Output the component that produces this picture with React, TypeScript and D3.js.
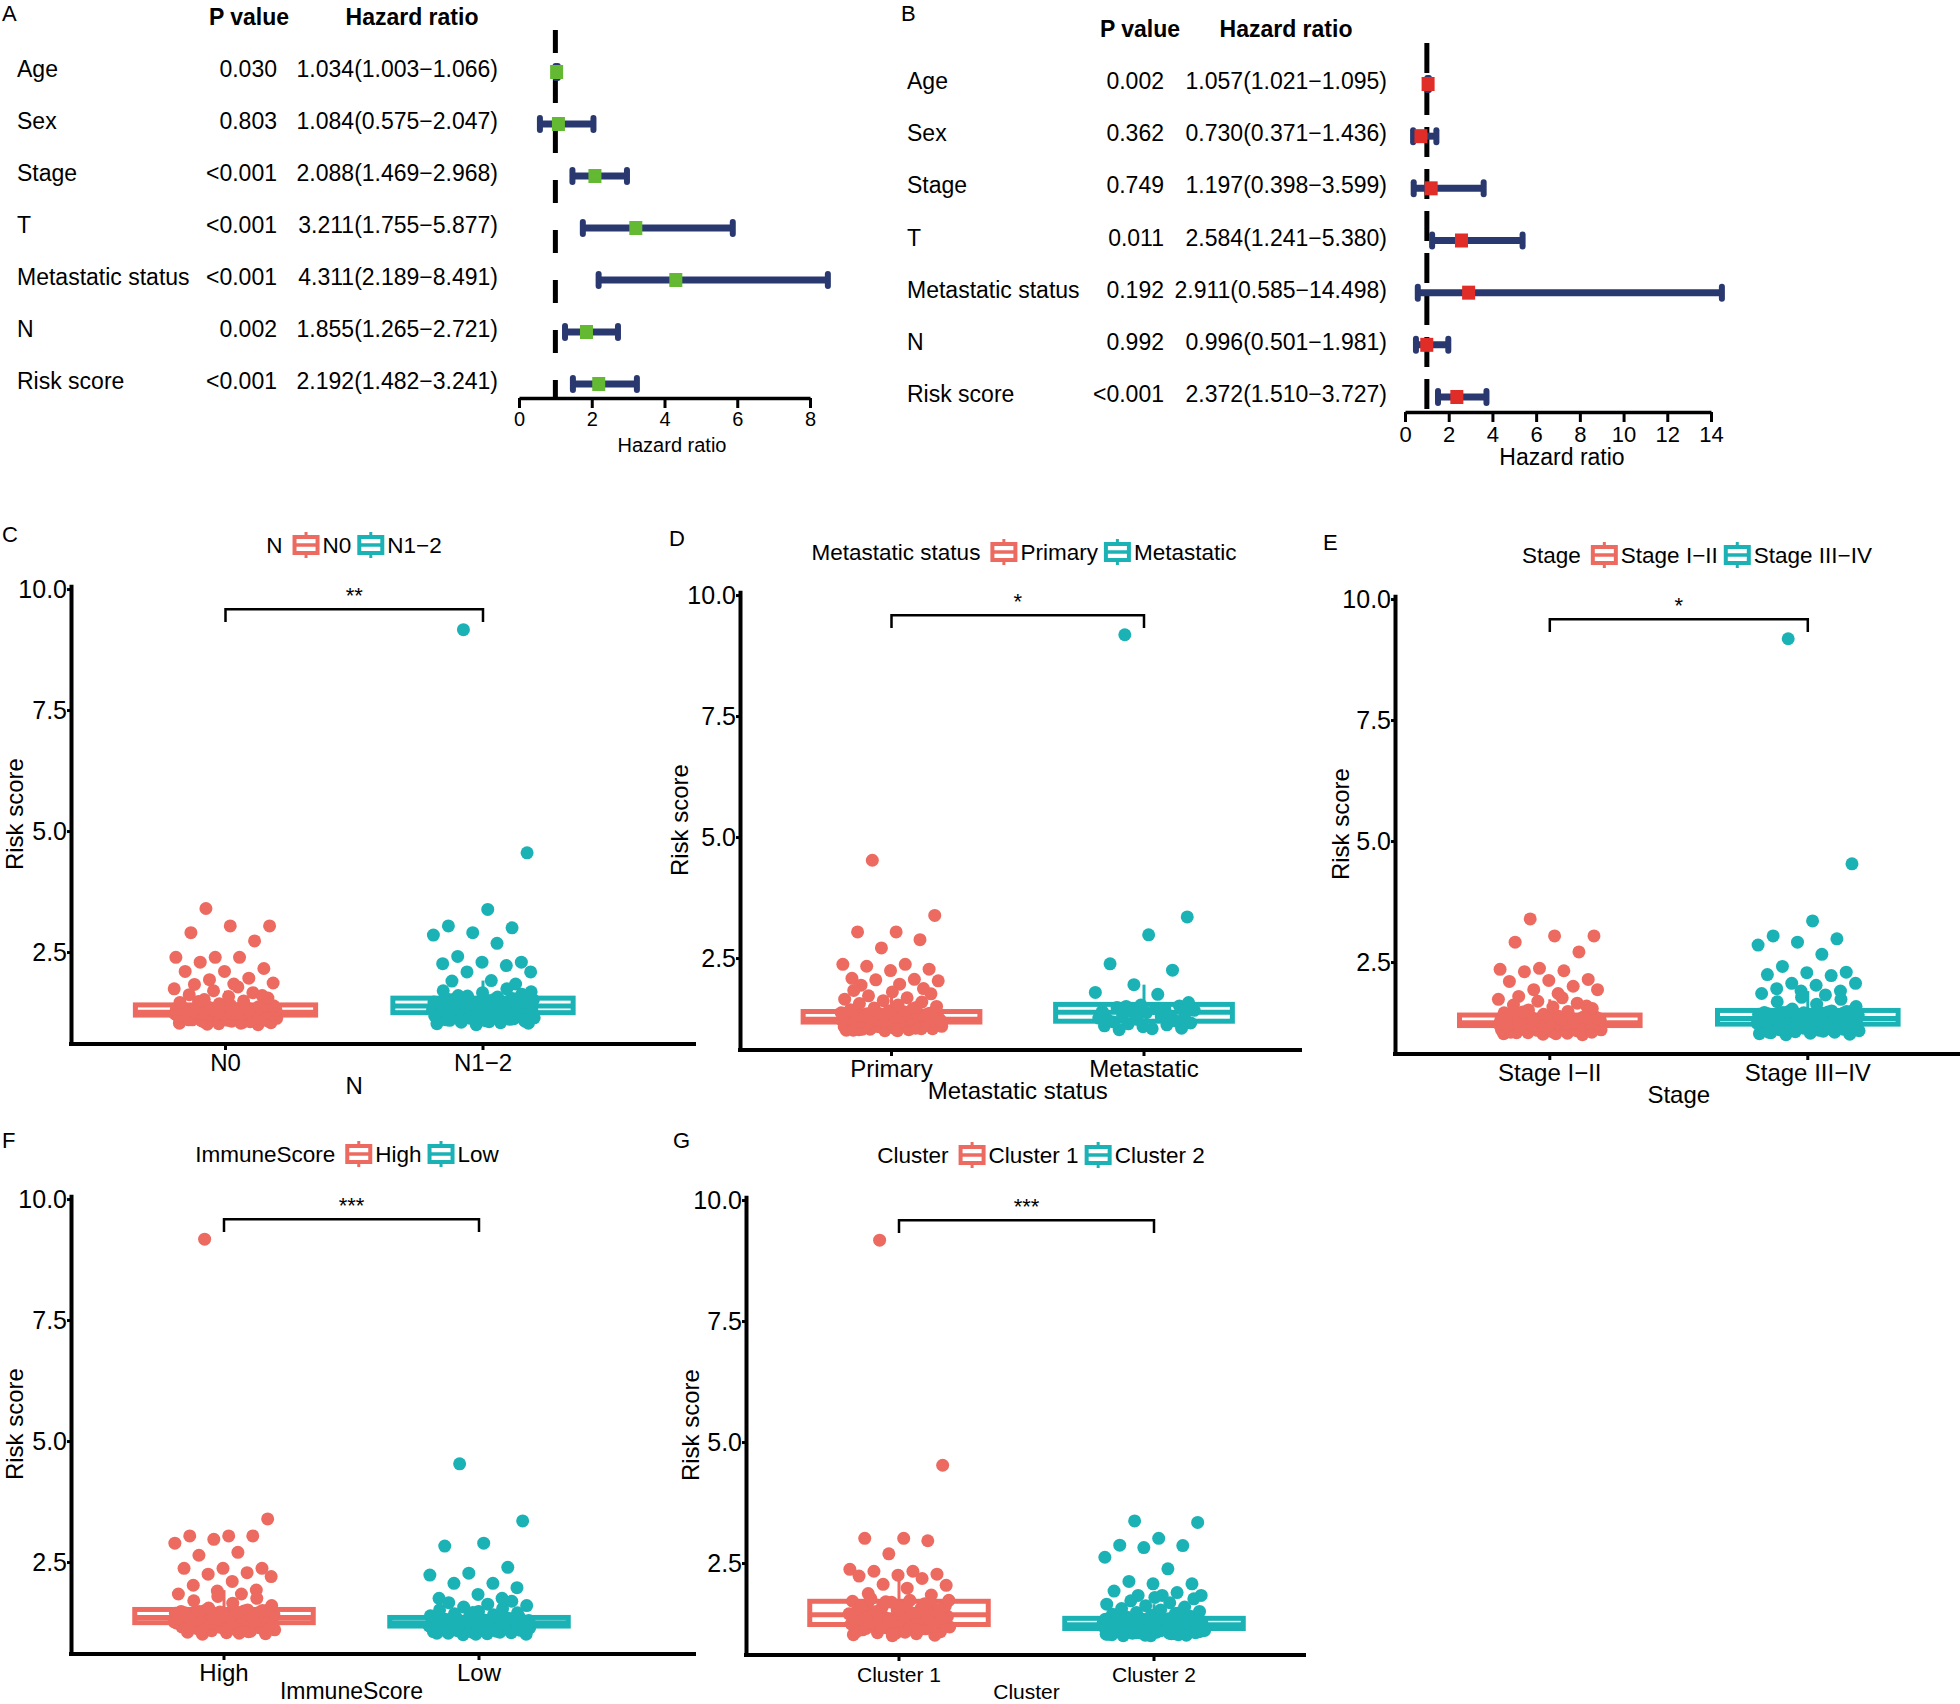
import React, { useEffect, useRef } from 'react';
import * as d3 from 'd3';

const FONT = '"Liberation Sans", Arial, Helvetica, sans-serif';
const RED = '#EC6A60';
const TEAL = '#1BB2B6';
const NAVY = '#2A3870';

// ---- forest plots: A univariate, B multivariate ----
const forestVars = ['Age', 'Sex', 'Stage', 'T', 'Metastatic status', 'N', 'Risk score'];

const uniP = ['0.030', '0.803', '<0.001', '<0.001', '<0.001', '0.002', '<0.001'];
const uniHR = [1.034, 1.084, 2.088, 3.211, 4.311, 1.855, 2.192];
const uniLow = [1.003, 0.575, 1.469, 1.755, 2.189, 1.265, 1.482];
const uniHigh = [1.066, 2.047, 2.968, 5.877, 8.491, 2.721, 3.241];
const uniTicks = [0, 2, 4, 6, 8];

const multiP = ['0.002', '0.362', '0.749', '0.011', '0.192', '0.992', '<0.001'];
const multiHR = [1.057, 0.730, 1.197, 2.584, 2.911, 0.996, 2.372];
const multiLow = [1.021, 0.371, 0.398, 1.241, 0.585, 0.501, 1.510];
const multiHigh = [1.095, 1.436, 3.599, 5.380, 14.498, 1.981, 3.727];
const multiTicks = [0, 2, 4, 6, 8, 10, 12, 14];

// ---- risk score by group (C-G), estimated from the jitter plots ----
const nGroups = ['N0', 'N1\u22122'];
const riskN0 = [3.40, 3.04, 3.04, 2.90, 2.73, 2.39, 2.39, 2.39, 2.29, 2.16, 2.10, 2.10, 1.96, 1.93, 1.86, 1.84, 1.83,
  1.00, 1.02, 1.03, 1.05, 1.06, 1.08, 1.09, 1.10, 1.11, 1.12, 1.13, 1.14, 1.15, 1.16, 1.17, 1.18, 1.19, 1.01, 1.04, 1.07, 1.10, 1.13, 1.16, 1.19, 1.03, 1.08, 1.12, 1.15, 1.18, 1.06,
  1.20, 1.21, 1.22, 1.23, 1.24, 1.25, 1.20, 1.21, 1.22, 1.23, 1.24, 1.25, 1.20, 1.21, 1.22, 1.23, 1.24, 1.25, 1.21, 1.22, 1.23, 1.24, 1.21, 1.23, 1.25, 1.22, 1.24, 1.20, 1.23, 1.22,
  1.26, 1.27, 1.28, 1.29, 1.30, 1.31, 1.32, 1.33, 1.34, 1.35, 1.36, 1.37, 1.38, 1.39, 1.40, 1.26, 1.28, 1.30, 1.32, 1.34, 1.36, 1.38, 1.40, 1.27, 1.31, 1.35, 1.39, 1.29, 1.33, 1.37,
  1.43, 1.46, 1.49, 1.52, 1.55, 1.58, 1.62, 1.66, 1.70, 1.74, 1.78, 1.48, 1.60];
const riskN12 = [9.16, 4.55, 3.38, 3.04, 3.00, 2.90, 2.85, 2.68, 2.41, 2.29, 2.29, 2.26, 2.22, 2.09, 2.09, 1.91, 1.90, 1.84,
  1.00, 1.02, 1.04, 1.05, 1.07, 1.08, 1.10, 1.11, 1.13, 1.14, 1.16, 1.17, 1.19, 1.20, 1.22, 1.23, 1.24, 1.03, 1.06, 1.09, 1.12, 1.15, 1.18, 1.21, 1.24, 1.13,
  1.25, 1.26, 1.27, 1.28, 1.29, 1.30, 1.31, 1.32, 1.33, 1.34, 1.35, 1.36, 1.37, 1.38, 1.25, 1.27, 1.29, 1.31, 1.33, 1.35, 1.37, 1.26, 1.30, 1.34, 1.38, 1.32,
  1.39, 1.40, 1.41, 1.42, 1.43, 1.44, 1.45, 1.46, 1.47, 1.48, 1.49, 1.50, 1.51, 1.52, 1.53, 1.54, 1.40, 1.42, 1.44, 1.46, 1.48, 1.50, 1.52, 1.54, 1.43, 1.47,
  1.57, 1.60, 1.63, 1.66, 1.70, 1.74, 1.59, 1.68];

const metGroups = ['Primary', 'Metastatic'];
const riskPrimary = [4.52, 3.38, 3.04, 3.04, 2.88, 2.71, 2.37, 2.37, 2.33, 2.27, 2.24, 2.08, 2.06, 2.05, 2.03, 1.96, 1.94, 1.87,
  1.00, 1.01, 1.02, 1.03, 1.04, 1.05, 1.06, 1.07, 1.08, 1.09, 1.10, 1.11, 1.12, 1.13, 1.14, 1.15, 1.16, 1.17, 1.00, 1.02, 1.04, 1.06, 1.08, 1.10, 1.12, 1.14, 1.16, 1.01, 1.05, 1.09, 1.13, 1.17, 1.03, 1.11,
  1.18, 1.19, 1.20, 1.21, 1.22, 1.23, 1.18, 1.19, 1.20, 1.21, 1.22, 1.23, 1.18, 1.19, 1.20, 1.21, 1.22, 1.23, 1.18, 1.19, 1.20, 1.21, 1.22, 1.23, 1.18, 1.20, 1.22, 1.19, 1.21, 1.23, 1.20, 1.22, 1.19, 1.21,
  1.24, 1.25, 1.26, 1.27, 1.28, 1.29, 1.30, 1.31, 1.32, 1.33, 1.34, 1.35, 1.36, 1.37, 1.38, 1.39, 1.24, 1.26, 1.28, 1.30, 1.32, 1.34, 1.36, 1.38, 1.25, 1.27, 1.29, 1.31, 1.33, 1.35, 1.37, 1.39, 1.30, 1.34,
  1.41, 1.43, 1.45, 1.47, 1.50, 1.53, 1.56, 1.59, 1.62, 1.65, 1.68, 1.72, 1.76, 1.80, 1.83, 1.48];
const riskMetastatic = [9.18, 3.35, 2.98, 2.38, 2.25, 1.95, 1.79, 1.75,
  1.02, 1.05, 1.08, 1.10, 1.12, 1.14, 1.16, 1.04, 1.18,
  1.20, 1.23, 1.26, 1.29, 1.32, 1.35, 1.37, 1.22, 1.30,
  1.39, 1.42, 1.45, 1.48, 1.51, 1.53, 1.40, 1.46, 1.50,
  1.58];

const stageGroups = ['Stage I\u2212II', 'Stage III\u2212IV'];
const riskStageEarly = [3.39, 3.04, 3.04, 2.91, 2.71, 2.37, 2.35, 2.32, 2.30, 2.14, 2.12, 2.10, 2.00, 1.93, 1.93, 1.85, 1.79,
  1.00, 1.01, 1.02, 1.03, 1.04, 1.05, 1.06, 1.07, 1.08, 1.09, 1.10, 1.11, 1.12, 1.13, 1.14, 1.15, 1.16, 1.17, 1.18, 1.02, 1.04, 1.06, 1.08, 1.10, 1.12, 1.14, 1.16, 1.18, 1.05, 1.11,
  1.19, 1.20, 1.21, 1.22, 1.23, 1.24, 1.19, 1.20, 1.21, 1.22, 1.23, 1.24, 1.19, 1.20, 1.21, 1.22, 1.23, 1.24, 1.19, 1.21, 1.23, 1.20, 1.22, 1.24, 1.19, 1.22, 1.20, 1.23, 1.21, 1.24,
  1.25, 1.26, 1.27, 1.28, 1.29, 1.30, 1.31, 1.32, 1.33, 1.34, 1.35, 1.36, 1.37, 1.38, 1.39, 1.40, 1.25, 1.27, 1.29, 1.31, 1.33, 1.35, 1.37, 1.39, 1.26, 1.30, 1.34, 1.38, 1.28, 1.36,
  1.42, 1.45, 1.48, 1.51, 1.54, 1.57, 1.61, 1.65, 1.69, 1.73, 1.76, 1.47, 1.59];
const riskStageLate = [9.18, 4.53, 3.35, 3.04, 2.98, 2.91, 2.85, 2.66, 2.41, 2.29, 2.28, 2.24, 2.22, 2.06, 2.06, 2.02, 1.95, 1.90, 1.90, 1.85, 1.82,
  1.00, 1.01, 1.03, 1.04, 1.05, 1.06, 1.08, 1.09, 1.10, 1.11, 1.13, 1.14, 1.15, 1.16, 1.17, 1.18, 1.19, 1.20, 1.21, 1.02, 1.07, 1.12, 1.17, 1.21, 1.05, 1.10, 1.15,
  1.22, 1.23, 1.24, 1.25, 1.26, 1.27, 1.28, 1.29, 1.30, 1.31, 1.32, 1.33, 1.22, 1.23, 1.24, 1.25, 1.26, 1.27, 1.28, 1.29, 1.30, 1.31, 1.32, 1.33, 1.24, 1.28, 1.31,
  1.34, 1.35, 1.36, 1.37, 1.38, 1.39, 1.40, 1.41, 1.42, 1.43, 1.44, 1.45, 1.46, 1.47, 1.48, 1.49, 1.34, 1.36, 1.38, 1.40, 1.42, 1.44, 1.46, 1.48, 1.37, 1.43, 1.49,
  1.53, 1.58, 1.63, 1.68, 1.73, 1.77];

const immuneGroups = ['High', 'Low'];
const riskImmuneHigh = [9.17, 3.39, 3.04, 3.04, 3.04, 2.97, 2.89, 2.70, 2.64, 2.37, 2.37, 2.37, 2.28, 2.25, 2.20, 2.10, 2.02, 1.92, 1.90, 1.84, 1.84,
  1.01, 1.02, 1.04, 1.05, 1.07, 1.08, 1.10, 1.11, 1.13, 1.14, 1.15, 1.16, 1.17, 1.18, 1.19, 1.20, 1.21, 1.22, 1.23, 1.24, 1.03, 1.09, 1.12, 1.18, 1.22, 1.06, 1.24,
  1.25, 1.26, 1.27, 1.28, 1.29, 1.30, 1.31, 1.32, 1.33, 1.34, 1.35, 1.25, 1.26, 1.27, 1.28, 1.29, 1.30, 1.31, 1.32, 1.33, 1.34, 1.35, 1.26, 1.28, 1.30, 1.32, 1.34,
  1.36, 1.37, 1.38, 1.39, 1.40, 1.41, 1.42, 1.43, 1.44, 1.45, 1.46, 1.47, 1.48, 1.49, 1.50, 1.51, 1.36, 1.38, 1.40, 1.42, 1.44, 1.46, 1.48, 1.50, 1.39, 1.45, 1.51,
  1.55, 1.60, 1.65, 1.70, 1.75, 1.79];
const riskImmuneLow = [4.53, 3.35, 2.89, 2.83, 2.39, 2.27, 2.23, 2.06, 2.06, 1.97, 1.83, 1.75, 1.75,
  1.00, 1.01, 1.02, 1.03, 1.04, 1.05, 1.06, 1.07, 1.08, 1.09, 1.10, 1.11, 1.12, 1.13, 1.14, 1.15, 1.16, 1.17, 1.01, 1.03, 1.05, 1.07, 1.09, 1.11, 1.13, 1.15, 1.17,
  1.18, 1.19, 1.20, 1.21, 1.22, 1.23, 1.24, 1.18, 1.19, 1.20, 1.21, 1.22, 1.23, 1.24, 1.18, 1.19, 1.20, 1.21, 1.22, 1.23, 1.24, 1.18, 1.20, 1.22, 1.24, 1.19, 1.21,
  1.25, 1.26, 1.27, 1.28, 1.29, 1.30, 1.31, 1.32, 1.33, 1.34, 1.35, 1.25, 1.26, 1.27, 1.28, 1.29, 1.30, 1.31, 1.32, 1.33, 1.34, 1.35, 1.26, 1.28, 1.30, 1.32, 1.34,
  1.37, 1.39, 1.41, 1.43, 1.45, 1.48, 1.51, 1.54, 1.57, 1.60, 1.63, 1.66, 1.69, 1.46];

const clusterGroups = ['Cluster 1', 'Cluster 2'];
const riskCluster1 = [9.17, 4.52, 3.01, 3.01, 2.96, 2.69, 2.37, 2.33, 2.33, 2.27, 2.25, 2.23, 2.18, 2.06, 2.04, 1.98, 1.87, 1.84,
  1.00, 1.02, 1.04, 1.06, 1.08, 1.10, 1.12, 1.14, 1.16, 1.18, 1.20, 1.22, 1.01, 1.05, 1.09, 1.13, 1.17, 1.21, 1.07, 1.15, 1.19, 1.23,
  1.24, 1.26, 1.28, 1.30, 1.32, 1.34, 1.36, 1.38, 1.40, 1.42, 1.25, 1.27, 1.29, 1.31, 1.33, 1.35, 1.37, 1.39, 1.41, 1.43, 1.30,
  1.45, 1.47, 1.49, 1.51, 1.53, 1.55, 1.57, 1.59, 1.61, 1.63, 1.65, 1.67, 1.69, 1.71, 1.46, 1.50, 1.54, 1.58, 1.62, 1.66, 1.70,
  1.73, 1.73, 1.76];
const riskCluster2 = [3.37, 3.34, 3.01, 2.87, 2.86, 2.82, 2.62, 2.38, 2.12, 2.07, 2.07, 1.92, 1.89, 1.83, 1.83, 1.83,
  1.00, 1.01, 1.02, 1.03, 1.04, 1.05, 1.06, 1.07, 1.08, 1.09, 1.10, 1.11, 1.12, 1.13, 1.14, 1.00, 1.02, 1.04, 1.06, 1.08, 1.10, 1.12, 1.14, 1.01, 1.03, 1.05, 1.07, 1.09, 1.11, 1.13, 1.02, 1.06, 1.10, 1.14,
  1.15, 1.16, 1.17, 1.18, 1.19, 1.20, 1.21, 1.22, 1.15, 1.16, 1.17, 1.18, 1.19, 1.20, 1.21, 1.22, 1.15, 1.16, 1.17, 1.18, 1.19, 1.20, 1.21, 1.22, 1.15, 1.17, 1.19, 1.21, 1.16, 1.18, 1.20, 1.22, 1.17, 1.19,
  1.23, 1.24, 1.25, 1.26, 1.27, 1.28, 1.29, 1.30, 1.31, 1.32, 1.33, 1.34, 1.35, 1.23, 1.24, 1.25, 1.26, 1.27, 1.28, 1.29, 1.30, 1.31, 1.32, 1.33, 1.34, 1.35, 1.24, 1.26, 1.28, 1.30, 1.32, 1.34, 1.27, 1.31,
  1.38, 1.40, 1.42, 1.44, 1.46, 1.48, 1.50, 1.53, 1.56, 1.59, 1.62, 1.65, 1.68, 1.72, 1.76, 1.79, 1.41, 1.47];

const riskTicks = [2.5, 5, 7.5, 10];

// layout
const W = 1960;
const H = 1704;
const PX_PER_UNIT = 48.4;
const Y_MIN = 0.6;
const Y_MAX = 10.1;
const SIG_BAR = 9.58;
const SIG_TICK = 9.32;
const SIG_TEXT = 9.95;
const DOT_R = 6.5;
const TEXT_SIZE = 23;

const forestA = {
  letter: 'A', letterX: 2, letterY: 21, headerY: 25, pHeadX: 249, hrHeadX: 412,
  rowTop: 69, rowBottom: 381, labelX: 17, pRight: 277, hrRight: 498,
  x0: 519, x1: 810, max: 8, ticks: uniTicks, axisY: 398, refTop: 30, dash: '23,27',
  tickFont: 20, titleFont: 20, titleX: 672, titleY: 452, mark: '#64B932',
};
const forestB = {
  letter: 'B', letterX: 901, letterY: 21, headerY: 37, pHeadX: 1140, hrHeadX: 1286,
  rowTop: 81, rowBottom: 394, labelX: 907, pRight: 1164, hrRight: 1387,
  x0: 1405, x1: 1711, max: 14, ticks: multiTicks, axisY: 412, refTop: 43, dash: '30,12',
  tickFont: 22, titleFont: 23, titleX: 1562, titleY: 465, mark: '#E12D28',
};

const boxPanels = [
  { letter: 'C', lx: 2, ly: 542, title: 'N', groups: nGroups, values: [riskN0, riskN12], sig: '**',
    legendCx: 354, legendY: 553, x0: 71, step: 257.5, axisEnd: 696, axisY: 1044, yTitleX: 15,
    labelSize: 24, titleSize: 24, titleDy: 50 },
  { letter: 'D', lx: 669, ly: 546, title: 'Metastatic status', groups: metGroups, values: [riskPrimary, riskMetastatic], sig: '*',
    legendCx: 1024, legendY: 560, x0: 740, step: 252.5, axisEnd: 1302, axisY: 1050, yTitleX: 680,
    labelSize: 24, titleSize: 24, titleDy: 49 },
  { letter: 'E', lx: 1323, ly: 550, title: 'Stage', groups: stageGroups, values: [riskStageEarly, riskStageLate], sig: '*',
    legendCx: 1697, legendY: 563, x0: 1395, step: 258, axisEnd: 1960, axisY: 1054, yTitleX: 1341,
    labelSize: 24, titleSize: 24, titleDy: 49 },
  { letter: 'F', lx: 2, ly: 1148, title: 'ImmuneScore', groups: immuneGroups, values: [riskImmuneHigh, riskImmuneLow], sig: '***',
    legendCx: 347, legendY: 1162, x0: 71, step: 255, axisEnd: 696, axisY: 1654, yTitleX: 15,
    labelSize: 24, titleSize: 23, titleDy: 45 },
  { letter: 'G', lx: 673, ly: 1148, title: 'Cluster', groups: clusterGroups, values: [riskCluster1, riskCluster2], sig: '***',
    legendCx: 1041, legendY: 1163, x0: 746, step: 255, axisEnd: 1306, axisY: 1655, yTitleX: 691,
    labelSize: 21, titleSize: 21, titleDy: 44 },
];

const fmt3 = d3.format('.3f');

function drawForest(svg, c, pv, hr, lo, hi) {
  const g = svg.append('g').attr('font-family', FONT);
  const x = d3.scaleLinear().domain([0, c.max]).range([c.x0, c.x1]);
  const y = d3.scalePoint().domain(forestVars).range([c.rowTop, c.rowBottom]);
  const rows = forestVars.map((v, i) => ({ v, p: pv[i], hr: hr[i], lo: lo[i], hi: hi[i] }));

  g.append('text').attr('x', c.letterX).attr('y', c.letterY).attr('font-size', 22).text(c.letter);
  g.append('text').attr('x', c.pHeadX).attr('y', c.headerY).attr('text-anchor', 'middle')
    .attr('font-size', 23).attr('font-weight', 'bold').text('P value');
  g.append('text').attr('x', c.hrHeadX).attr('y', c.headerY).attr('text-anchor', 'middle')
    .attr('font-size', 23).attr('font-weight', 'bold').text('Hazard ratio');

  g.selectAll('.lab').data(rows).join('text').attr('class', 'lab')
    .attr('x', c.labelX).attr('y', d => y(d.v) + 8).attr('font-size', TEXT_SIZE).text(d => d.v);
  g.selectAll('.pv').data(rows).join('text').attr('class', 'pv')
    .attr('x', c.pRight).attr('y', d => y(d.v) + 8).attr('text-anchor', 'end').attr('font-size', TEXT_SIZE).text(d => d.p);
  const hrText = g.selectAll('.hrt').data(rows).join('text').attr('class', 'hrt')
    .attr('x', c.hrRight).attr('y', d => y(d.v) + 8).attr('text-anchor', 'end').attr('font-size', TEXT_SIZE)
    .text(d => `${fmt3(d.hr)}(${fmt3(d.lo)}\u2212${fmt3(d.hi)})`);
  // squeeze a label that would run into the P value column
  const room = c.hrRight - c.pRight - 8;
  hrText.each(function () {
    if (this.getComputedTextLength() > room) {
      d3.select(this).attr('textLength', room).attr('lengthAdjust', 'spacingAndGlyphs');
    }
  });

  // reference line at HR = 1
  g.append('line').attr('x1', x(1)).attr('x2', x(1)).attr('y1', c.refTop).attr('y2', c.axisY)
    .attr('stroke', '#000').attr('stroke-width', 5).attr('stroke-dasharray', c.dash);

  const my = d => y(d.v) + 3;
  g.selectAll('.ci').data(rows).join('line').attr('class', 'ci')
    .attr('x1', d => x(d.lo)).attr('x2', d => x(d.hi)).attr('y1', my).attr('y2', my)
    .attr('stroke', NAVY).attr('stroke-width', 7);
  const caps = rows.flatMap(d => [{ v: d.v, at: d.lo }, { v: d.v, at: d.hi }]);
  g.selectAll('.cap').data(caps).join('line').attr('class', 'cap')
    .attr('x1', d => x(d.at)).attr('x2', d => x(d.at))
    .attr('y1', d => my(d) - 6).attr('y2', d => my(d) + 6)
    .attr('stroke', NAVY).attr('stroke-width', 6).attr('stroke-linecap', 'round');
  g.selectAll('.est').data(rows).join('rect').attr('class', 'est')
    .attr('x', d => x(d.hr) - 6.5).attr('y', d => my(d) - 7).attr('width', 13).attr('height', 14)
    .attr('fill', c.mark);

  const ax = d3.axisBottom(x).tickValues(c.ticks).tickSize(10).tickSizeOuter(0).tickPadding(4).tickFormat(d3.format('d'));
  const ag = g.append('g').attr('transform', `translate(0,${c.axisY})`).call(ax);
  ag.attr('font-size', c.tickFont).attr('font-family', FONT);
  ag.select('.domain').attr('stroke-width', 3.5);
  ag.selectAll('.tick line').attr('stroke-width', 3);
  g.append('text').attr('x', c.titleX).attr('y', c.titleY).attr('text-anchor', 'middle')
    .attr('font-size', c.titleFont).text('Hazard ratio');
}

function drawKey(g, x0, cy, color) {
  const k = g.append('g').attr('transform', `translate(${x0},${cy})`);
  k.append('line').attr('x1', 13.5).attr('x2', 13.5).attr('y1', -13).attr('y2', 13)
    .attr('stroke', color).attr('stroke-width', 3);
  k.append('rect').attr('x', 2).attr('y', -8).attr('width', 23).attr('height', 16)
    .attr('fill', '#fff').attr('stroke', color).attr('stroke-width', 4);
  k.append('line').attr('x1', 2).attr('x2', 25).attr('y1', 0).attr('y2', 0)
    .attr('stroke', color).attr('stroke-width', 3.5);
}

function drawBoxPanel(svg, p) {
  const g = svg.append('g').attr('font-family', FONT);
  const colors = [RED, TEAL];
  const x = d3.scalePoint().domain(p.groups).range([p.x0, p.x0 + 2.2 * p.step]).padding(0.6);
  const y = d3.scaleLinear().domain([Y_MIN, Y_MAX]).range([p.axisY, p.axisY - (Y_MAX - Y_MIN) * PX_PER_UNIT]);
  const boxW = 0.7 * p.step;
  const jit = 0.2 * p.step;

  g.append('text').attr('x', p.lx).attr('y', p.ly).attr('font-size', 22).text(p.letter);

  p.groups.forEach((name, i) => {
    const vals = p.values[i];
    const color = colors[i];
    const s = [...vals].sort(d3.ascending);
    const q1 = d3.quantileSorted(s, 0.25);
    const med = d3.quantileSorted(s, 0.5);
    const q3 = d3.quantileSorted(s, 0.75);
    const iqr = q3 - q1;
    const hiW = d3.max(s.filter(v => v <= q3 + 1.5 * iqr));
    const loW = d3.min(s.filter(v => v >= q1 - 1.5 * iqr));
    const cx = x(name);

    const bg = g.append('g');
    bg.append('line').attr('x1', cx).attr('x2', cx).attr('y1', y(q3)).attr('y2', y(hiW))
      .attr('stroke', color).attr('stroke-width', 3);
    bg.append('line').attr('x1', cx).attr('x2', cx).attr('y1', y(q1)).attr('y2', y(loW))
      .attr('stroke', color).attr('stroke-width', 3);
    bg.append('rect').attr('x', cx - boxW / 2).attr('y', y(q3)).attr('width', boxW).attr('height', y(q1) - y(q3))
      .attr('fill', '#fff').attr('stroke', color).attr('stroke-width', 5);
    bg.append('line').attr('x1', cx - boxW / 2).attr('x2', cx + boxW / 2).attr('y1', y(med)).attr('y2', y(med))
      .attr('stroke', color).attr('stroke-width', 5);

    g.append('g').selectAll('circle').data(vals).join('circle')
      .attr('cx', (v, j) => cx + (((j * 0.618034 + 0.31) % 1) - 0.5) * 2 * jit)
      .attr('cy', v => y(v)).attr('r', DOT_R).attr('fill', color);
  });

  // significance bracket
  const [a, b] = p.groups.map(n => x(n));
  g.append('path').attr('d', `M${a},${y(SIG_TICK)}V${y(SIG_BAR)}H${b}V${y(SIG_TICK)}`)
    .attr('fill', 'none').attr('stroke', '#000').attr('stroke-width', 2.5);
  g.append('text').attr('x', (a + b) / 2).attr('y', y(SIG_TEXT) + 12).attr('text-anchor', 'middle')
    .attr('font-size', 22).text(p.sig);

  // axes
  const ya = d3.axisLeft(y).tickValues(riskTicks).tickFormat(d3.format('.1f')).tickSize(4).tickSizeOuter(0).tickPadding(0);
  const yg = g.append('g').attr('transform', `translate(${p.x0},0)`).call(ya);
  yg.attr('font-size', 25).attr('font-family', FONT);
  yg.select('.domain').attr('stroke-width', 4);
  yg.selectAll('.tick line').attr('stroke-width', 3);

  g.append('line').attr('x1', p.x0 - 2).attr('x2', p.axisEnd).attr('y1', p.axisY).attr('y2', p.axisY)
    .attr('stroke', '#000').attr('stroke-width', 4);
  g.selectAll('.xt').data(p.groups).join('line').attr('class', 'xt')
    .attr('x1', d => x(d)).attr('x2', d => x(d)).attr('y1', p.axisY).attr('y2', p.axisY + 6)
    .attr('stroke', '#000').attr('stroke-width', 3);
  g.selectAll('.xl').data(p.groups).join('text').attr('class', 'xl')
    .attr('x', d => x(d)).attr('y', p.axisY + 27).attr('text-anchor', 'middle')
    .attr('font-size', p.labelSize).text(d => d);
  g.append('text').attr('x', p.x0 + 1.1 * p.step).attr('y', p.axisY + p.titleDy).attr('text-anchor', 'middle')
    .attr('font-size', p.titleSize).text(p.title);
  g.append('text')
    .attr('transform', `translate(${p.yTitleX + 8},${(y(Y_MIN) + y(Y_MAX)) / 2}) rotate(-90)`)
    .attr('text-anchor', 'middle').attr('font-size', 24).text('Risk score');

  // legend on top
  const lg = g.append('g');
  let cur = 0;
  const t = lg.append('text').attr('x', 0).attr('y', 0).attr('font-size', 22.5).text(p.title);
  cur += t.node().getComputedTextLength() + 10;
  p.groups.forEach((name, i) => {
    drawKey(lg, cur, -8, colors[i]);
    cur += 27 + 3;
    const lt = lg.append('text').attr('x', cur).attr('y', 0).attr('font-size', 22.5).text(name);
    cur += lt.node().getComputedTextLength() + 6;
  });
  cur -= 6;
  lg.attr('transform', `translate(${p.legendCx - cur / 2},${p.legendY})`);
}

const App = () => {
  const svgRef = useRef(null);

  useEffect(() => {
    const svg = d3.select(svgRef.current);
    svg.selectAll('*').remove();
    drawForest(svg, forestA, uniP, uniHR, uniLow, uniHigh);
    drawForest(svg, forestB, multiP, multiHR, multiLow, multiHigh);
    boxPanels.forEach(p => drawBoxPanel(svg, p));
  }, []);

  return (
    <svg
      ref={svgRef}
      width={W}
      height={H}
      style={{ position: 'absolute', left: 0, top: 0, background: '#fff' }}
    />
  );
};

export default App;
